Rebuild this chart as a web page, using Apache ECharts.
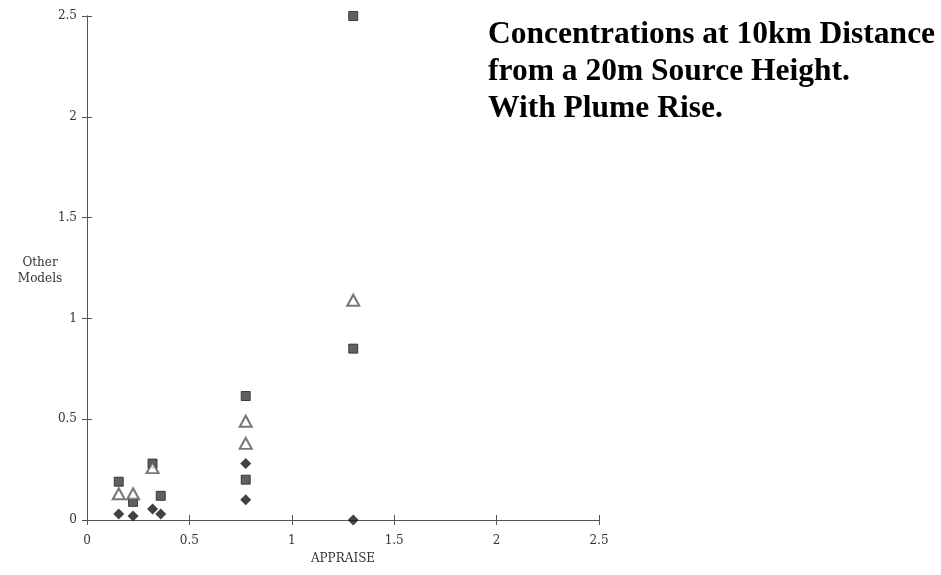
<!DOCTYPE html>
<html>
<head>
<meta charset="utf-8">
<script src="https://cdn.jsdelivr.net/npm/echarts@6/dist/echarts.min.js"></script>
<style>
  html, body { margin: 0; padding: 0; background: #ffffff; }
  #chart { width: 941px; height: 575px; }
</style>
</head>
<body>
<div id="chart"></div>
<script>
// APPRAISE concentrations (x) against three other models (y)
var appraise = [0.155, 0.225, 0.32, 0.36, 0.775, 0.775, 1.3, 1.3];
var modelSquares = [0.19, 0.09, 0.28, 0.12, 0.615, 0.2, 2.5, 0.85];
var modelTriangles = [0.13, 0.13, 0.26, null, 0.49, 0.38, 1.09, null];
var modelDiamonds = [0.03, 0.02, 0.055, 0.03, 0.28, 0.10, 0, null];
var axisTicks = [0, 0.5, 1, 1.5, 2, 2.5];

function pairs(ys) {
  var out = [];
  for (var i = 0; i < appraise.length; i++) {
    if (ys[i] !== null) out.push([appraise[i], ys[i]]);
  }
  return out;
}

var serif = '"DejaVu Serif", "Liberation Serif", serif';
var labelStyle = { color: '#333', fontFamily: serif, fontSize: 12 };

// main axis draws line, labels and outer ticks; the companion draws the inner half of each tick
function valueAxis(main, extra) {
  var ax = {
    type: 'value',
    min: axisTicks[0],
    max: axisTicks[axisTicks.length - 1],
    interval: 0.5,
    splitLine: { show: false },
    axisLine: { show: true, lineStyle: { color: '#555', width: 1 } },
    axisTick: { show: true, inside: !main, length: 5, lineStyle: { color: '#555' } },
    axisLabel: Object.assign({ show: main, margin: 10 }, labelStyle)
  };
  return Object.assign(ax, extra || {});
}

var chart = echarts.init(document.getElementById('chart'), null, { renderer: 'canvas' });
chart.setOption({
  backgroundColor: '#ffffff',
  animation: false,
  grid: { left: 87, right: 342, top: 16, bottom: 55 },
  xAxis: [
    valueAxis(true, { position: 'bottom', axisLabel: Object.assign({ margin: 15 }, labelStyle) }),
    valueAxis(false, { position: 'bottom' })
  ],
  yAxis: [
    valueAxis(true, { position: 'left', axisLabel: Object.assign({ margin: 10 }, labelStyle) }),
    valueAxis(false, { position: 'left' })
  ],
  graphic: [
    {
      type: 'text', left: 488, top: 16,
      style: {
        text: 'Concentrations at 10km Distance\nfrom a 20m Source Height.\nWith Plume Rise.',
        font: 'bold 31.5px "Liberation Serif", "Times New Roman", serif',
        lineHeight: 37, fill: '#000'
      }
    },
    {
      type: 'text', x: 40, y: 255,
      style: {
        text: 'Other\nModels', align: 'center', verticalAlign: 'top',
        font: '12px ' + serif, lineHeight: 16, fill: '#333'
      }
    },
    {
      type: 'text', x: 343, y: 553,
      style: { text: 'APPRAISE', align: 'center', verticalAlign: 'top', font: '12px ' + serif, fill: '#333' }
    }
  ],
  series: [
    {
      name: 'Squares', type: 'scatter', xAxisIndex: 0, yAxisIndex: 0,
      symbol: 'rect', symbolSize: 9,
      itemStyle: { color: '#3a3a3a', borderColor: '#222', borderWidth: 1 },
      data: pairs(modelSquares), z: 3
    },
    {
      name: 'Triangles', type: 'scatter', xAxisIndex: 0, yAxisIndex: 0,
      symbol: 'triangle', symbolSize: [12, 11],
      itemStyle: { color: '#ffffff', borderColor: '#555', borderWidth: 2 },
      data: pairs(modelTriangles), z: 4
    },
    {
      name: 'Diamonds', type: 'scatter', xAxisIndex: 0, yAxisIndex: 0,
      symbol: 'diamond', symbolSize: 11,
      itemStyle: { color: '#111' },
      data: pairs(modelDiamonds), z: 5
    }
  ]
});
</script>
</body>
</html>
